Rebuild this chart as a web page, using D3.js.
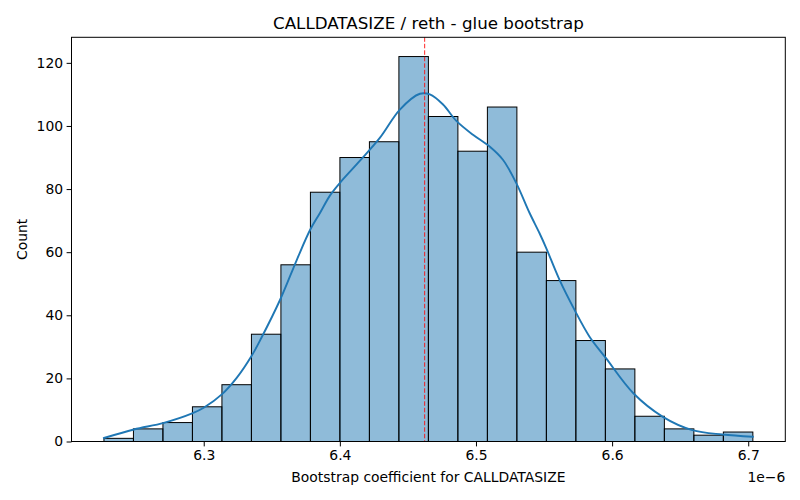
<!DOCTYPE html>
<html>
<head>
<meta charset="utf-8">
<script src="https://cdn.jsdelivr.net/npm/d3@7/dist/d3.min.js"></script>
<style>
  html, body { margin: 0; padding: 0; background: #fff; }
  svg text { font-family: "DejaVu Sans", sans-serif; fill: #000; }
</style>
</head>
<body>
<svg id="chart" width="800" height="500"></svg>
<script>
// ---- data (x values in units of 1e-6) ----
const binStart = 6.2267;
const binEnd = 6.7034;
const counts = [1, 4, 6, 11, 18, 34, 56, 79, 90, 95, 122, 103, 92, 106, 60, 51, 32, 23, 8, 4, 2, 3];
const kdeX = [6.2267, 6.2487, 6.2707, 6.2915, 6.3000, 6.3135, 6.3245, 6.3350, 6.3423, 6.3562,
              6.3684, 6.3782, 6.3855, 6.3928, 6.4001, 6.4148, 6.4295, 6.4441, 6.4588, 6.4661,
              6.4758, 6.4856, 6.4978, 6.5100, 6.5198, 6.5296, 6.5393, 6.5467, 6.5516, 6.5613,
              6.5723, 6.5833, 6.5955, 6.6158, 6.6370, 6.6590, 6.6810, 6.7034];
const kdeY = [1.1, 3.8, 5.9, 8.9, 10.7, 15.0, 20.3, 27.0, 32.8, 45.0,
              57.6, 67.1, 72.5, 78.0, 82.0, 89.0, 96.3, 105.2, 110.2, 110.0,
              106.8, 101.6, 97.2, 93.5, 89.3, 81.9, 72.5, 66.0, 61.3, 51.3,
              41.8, 33.3, 26.4, 15.2, 7.9, 3.6, 2.2, 1.5];
const refLine = 6.4623;
const xTicks = [6.3, 6.4, 6.5, 6.6, 6.7];
const yTicks = [0, 20, 40, 60, 80, 100, 120];
const titleText = "CALLDATASIZE / reth - glue bootstrap";
const xLabel = "Bootstrap coefficient for CALLDATASIZE";
const yLabel = "Count";
const offsetText = "1e\u22126";

// ---- layout ----
const L = 71.5, T = 37.3, R = 785.3, B = 441.5;
const svg = d3.select("#chart");

const binW = (binEnd - binStart) / counts.length;
const bins = counts.map((c, i) => ({ x0: binStart + i * binW, x1: binStart + (i + 1) * binW, c }));

const span = binEnd - binStart;
const x = d3.scaleLinear().domain([binStart - 0.05 * span, binEnd + 0.05 * span]).range([L, R]);
const y = d3.scaleLinear().domain([0, d3.max(counts) * 1.05]).range([B, T]);

// bars
svg.append("g").selectAll("rect").data(bins).join("rect")
  .attr("x", d => x(d.x0))
  .attr("y", d => y(d.c))
  .attr("width", d => x(d.x1) - x(d.x0))
  .attr("height", d => y(0) - y(d.c))
  .attr("fill", "rgba(31,119,180,0.5)")
  .attr("stroke", "#000")
  .attr("stroke-width", 1);

// kde
const pts = kdeX.map((v, i) => [v, kdeY[i]]);
svg.append("path")
  .datum(pts)
  .attr("fill", "none")
  .attr("stroke", "#1f77b4")
  .attr("stroke-width", 1.9)
  .attr("stroke-linecap", "square")
  .attr("d", d3.line().x(d => x(d[0])).y(d => y(d[1])).curve(d3.curveCatmullRom.alpha(0.5)));

// reference line
svg.append("line")
  .attr("x1", x(refLine)).attr("x2", x(refLine))
  .attr("y1", T).attr("y2", B)
  .attr("stroke", "red")
  .attr("stroke-opacity", 0.85)
  .attr("stroke-width", 1)
  .attr("stroke-dasharray", "4.5,2");

// frame
svg.append("rect")
  .attr("x", L).attr("y", T).attr("width", R - L).attr("height", B - T)
  .attr("fill", "none").attr("stroke", "#000").attr("stroke-width", 1);

// x axis
const xAxis = svg.append("g").attr("transform", `translate(0,${B})`)
  .call(d3.axisBottom(x).tickValues(xTicks).tickFormat(d3.format(".1f")).tickSize(4.9).tickPadding(3.5));
xAxis.select(".domain").remove();
xAxis.selectAll("text").style("font-size", "13.9px").style("font-family", "DejaVu Sans");
xAxis.selectAll("line").attr("stroke-width", 1);

// y axis
const yAxis = svg.append("g").attr("transform", `translate(${L},0)`)
  .call(d3.axisLeft(y).tickValues(yTicks).tickFormat(d3.format("d")).tickSize(4.9).tickPadding(3.5));
yAxis.select(".domain").remove();
yAxis.selectAll("text").style("font-size", "13.9px").style("font-family", "DejaVu Sans");
yAxis.selectAll("line").attr("stroke-width", 1);

// texts
svg.append("text").attr("x", (L + R) / 2).attr("y", 29).attr("text-anchor", "middle")
  .style("font-size", "16.7px").text(titleText);
svg.append("text").attr("x", (L + R) / 2).attr("y", 482).attr("text-anchor", "middle")
  .style("font-size", "13.9px").text(xLabel);
svg.append("text").attr("x", R).attr("y", 482).attr("text-anchor", "end")
  .style("font-size", "13.9px").text(offsetText);
svg.append("text").attr("transform", `translate(27,${(T + B) / 2}) rotate(-90)`).attr("text-anchor", "middle")
  .style("font-size", "13.9px").text(yLabel);
</script>
</body>
</html>
